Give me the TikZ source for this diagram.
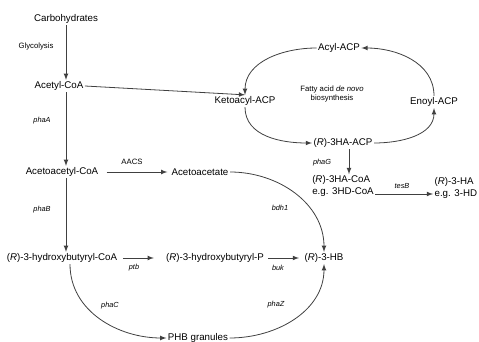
\documentclass[tikz,border=0pt]{standalone}
\usepackage{fontspec}
\setmainfont{Liberation Sans}

\begin{document}
\begin{tikzpicture}[x=0.75pt, y=-0.75pt,
		met/.style={font=\fontsize{7.3}{8.6}\selectfont, inner sep=1pt},
		enz/.style={font=\fontsize{5.5}{6.6}\selectfont\itshape, inner sep=1pt},
		note/.style={font=\fontsize{5.8}{7}\selectfont, inner sep=1pt, align=center},
		rxn/.style={-latex, line width=0.6pt, color=black!75}]
		%%%%% START %%%%%
		
		\useasboundingbox (0, 0) rectangle (479, 342);
		
		\node[met] (carb) at (66, 19) {Carbohydrates};
		\node[note] (glyc) at (36, 47) {Glycolysis};
		\node[met] (acetyl) at (59, 86) {Acetyl-CoA};
		\node[enz] (phaA) at (42, 121) {phaA};
		\node[met] (acac) at (62, 172) {Acetoacetyl-CoA};
		\node[enz] (phaB) at (42, 210) {phaB};
		\node[met] (hbcoa) at (62, 258) {(\textit{R})-3-hydroxybutyryl-CoA};
		
		\node[note] (aacs) at (132, 162) {AACS};
		\node[met] (acoac) at (200, 172) {Acetoacetate};
		\node[enz] (bdh) at (280, 208) {bdh1};
		
		\node[enz] (ptb) at (134, 268) {ptb};
		\node[met] (hbp) at (215, 258) {(\textit{R})-3-hydroxybutyryl-P};
		\node[enz] (buk) at (278, 268) {buk};
		\node[met] (hb) at (324, 258) {(\textit{R})-3-HB};
		
		\node[enz] (phaC) at (110, 306) {phaC};
		\node[met] (phb) at (198, 338) {PHB granules};
		\node[enz] (phaZ) at (276, 305) {phaZ};
		
		\node[met] (acyl) at (339, 48) {Acyl-ACP};
		\node[note] (fas) at (332, 94) {Fatty acid \textit{de novo}\\biosynthesis};
		\node[met] (keto) at (245, 101) {Ketoacyl-ACP};
		\node[met] (enoyl) at (434, 102) {Enoyl-ACP};
		\node[met] (hacp) at (343, 143) {(\textit{R})-3HA-ACP};
		\node[enz] (phaG) at (322, 163) {phaG};
		\node[met, align=left] (hacoa) at (343, 186) {(\textit{R})-3HA-CoA\\e.g. 3HD-CoA};
		\node[enz] (tesB) at (402, 186) {tesB};
		\node[met, align=left, anchor=west] (ha) at (433, 188) {(\textit{R})-3-HA\\e.g. 3-HD};
		
		% left column
		\draw[rxn] (carb.south) -- (carb.south |- acetyl.north);
		\draw[rxn] (carb.south |- acetyl.south) -- (carb.south |- acac.north);
		\draw[rxn] (carb.south |- acac.south) -- (carb.south |- hbcoa.north);
		
		\draw[rxn] ([xshift=5pt]acac.east) -- ([xshift=-2pt]acoac.west);
		\draw[rxn] (acoac.east) to[out=0, in=90] (hb.north);
		
		\draw[rxn] ([xshift=3pt]hbcoa.east) -- ([xshift=-8pt]hbp.west);
		\draw[rxn] ([xshift=2pt]hbp.east) -- ([xshift=-3pt]hb.west);
		
		\draw[rxn] ([xshift=6pt]hbcoa.south) to[out=-90, in=180] (phb.west);
		\draw[rxn] (phb.east) to[out=0, in=-90] (hb.south);
		
		% fatty acid cycle
		\draw[rxn] (acetyl.east) -- (keto.north);
		\draw[rxn] (acyl.west) to[out=180, in=90] (keto.north);
		\draw[rxn] (keto.south) to[out=-90, in=180] (hacp.west);
		\draw[rxn] (hacp.east) to[out=0, in=-90] (enoyl.south);
		\draw[rxn] (enoyl.north) to[out=90, in=0] (acyl.east);
		
		\draw[rxn] ([xshift=4.5pt]hacp.south) -- ([xshift=4.5pt]hacoa.north);
		\draw[rxn] ([yshift=-6pt]hacoa.east) -- ([yshift=-6pt]hacoa.east -| ha.west);
		
		%%%%% END %%%%%
	\end{tikzpicture}
\end{document}
